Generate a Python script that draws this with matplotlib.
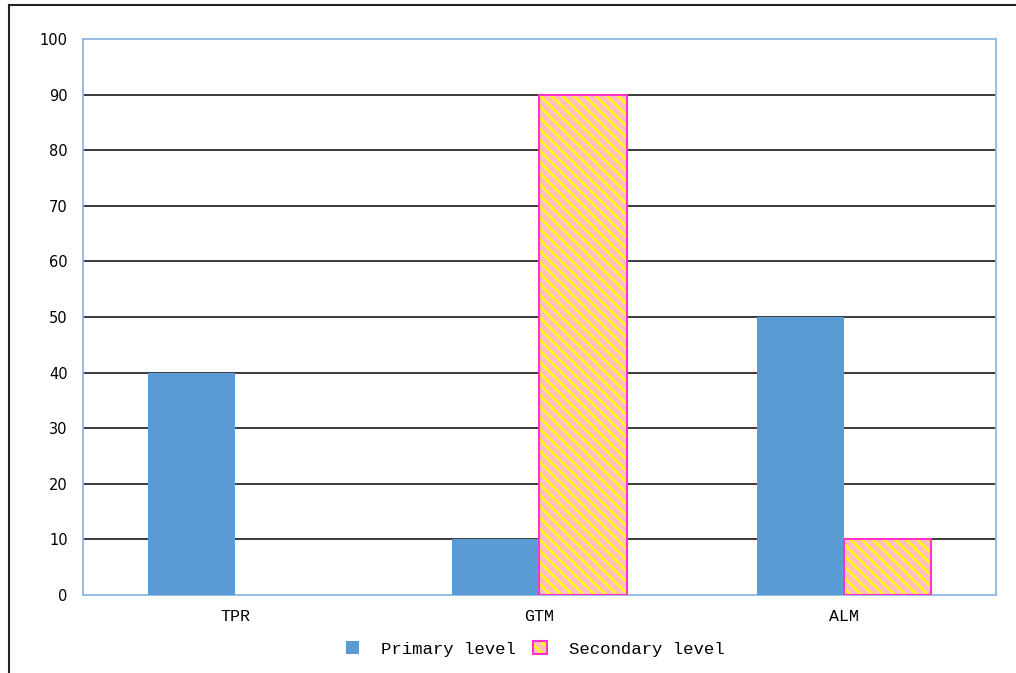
import matplotlib

matplotlib.use("Agg")
import matplotlib.pyplot as plt
import numpy as np
from matplotlib.legend_handler import HandlerTuple
from matplotlib.lines import Line2D

categories = ["TPR", "GTM", "ALM"]
primary = [40, 10, 50]
secondary = [0, 90, 10]
series_names = ["Primary level", "Secondary level"]
y_ticks = [0, 10, 20, 30, 40, 50, 60, 70, 80, 90, 100]

BLUE = "#5B9BD5"
PINK = "#FFBFBF"
STRIPE = "#FFFF00"
MAGENTA = "#FF33CC"
FRAME = "#8DB8E4"
HATCH = "\\\\\\"

plt.rcParams["hatch.linewidth"] = 1.8

fig = plt.figure(figsize=(10.16, 6.73), dpi=100)
ax = fig.add_axes([0.0817, 0.1159, 0.8986, 0.8261])

x = np.arange(len(categories))
w = 0.286

ax.bar(x - w / 2, primary, width=w, color=BLUE, linewidth=0, zorder=3)

# secondary bars: pink fill with yellow stripes, then magenta outline on top
sec_idx = [i for i, v in enumerate(secondary) if v > 0]
sec_vals = [secondary[i] for i in sec_idx]
ax.bar(x[sec_idx] + w / 2, sec_vals, width=w,
       facecolor=PINK, edgecolor=STRIPE, hatch=HATCH, linewidth=0, zorder=3)
ax.bar(x[sec_idx] + w / 2, sec_vals, width=w,
       facecolor="none", edgecolor=MAGENTA, linewidth=1.5, zorder=4)

ax.set_xlim(-0.5, len(categories) - 0.5)
ax.set_ylim(0, 100)
ax.set_yticks(y_ticks)
ax.set_yticklabels([str(t) for t in y_ticks], fontsize=10.5, family="DejaVu Sans")
ax.set_xticks(x)
ax.set_xticklabels(categories, fontsize=12, family="Liberation Mono")
ax.tick_params(axis="both", length=0, colors="#000000")
ax.tick_params(axis="y", pad=11)
ax.tick_params(axis="x", pad=10)

for t in y_ticks[1:-1]:
    ax.axhline(t, color="#1a1a1a", linewidth=1.2, zorder=2)
for s in ax.spines.values():
    s.set_color(FRAME)
    s.set_linewidth(1.3)

blue_patch = plt.Rectangle((0, 0), 1, 1, facecolor=BLUE, linewidth=0)
sec_fill = plt.Rectangle((0, 0), 1, 1, facecolor=PINK, edgecolor=STRIPE, hatch=HATCH, linewidth=0)
sec_edge = plt.Rectangle((0, 0), 1, 1, facecolor="none", edgecolor=MAGENTA, linewidth=1.5)
fig.legend([blue_patch, (sec_fill, sec_edge)], series_names,
           handler_map={tuple: HandlerTuple(ndivide=1)},
           loc="center", bbox_to_anchor=(0.5266, 0.036), ncol=2, frameon=False,
           prop={"family": "Liberation Mono", "size": 12.5},
           handlelength=0.8, handleheight=0.8, handletextpad=1.25, columnspacing=1.0)

# outer black frame (top and left edges)
fig.add_artist(Line2D([9 / 1016, 1015 / 1016], [1 - 5 / 673, 1 - 5 / 673],
                      transform=fig.transFigure, color="#222222", linewidth=1.5))
fig.add_artist(Line2D([9 / 1016, 9 / 1016], [1 - 5 / 673, 0],
                      transform=fig.transFigure, color="#222222", linewidth=1.5))

fig.savefig("out.png", dpi=100)
